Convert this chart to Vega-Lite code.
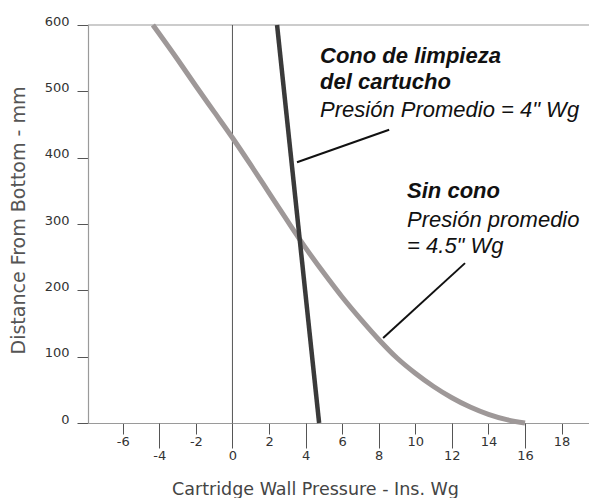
{
  "$schema": "https://vega.github.io/schema/vega-lite/v6.json",
  "width": 501,
  "height": 398,
  "autosize": {"type": "none"},
  "padding": {"left": 88, "top": 25, "right": 0, "bottom": 75},
  "background": "white",
  "config": {"view": {"stroke": null}, "axis": {"grid": false}},
  "datasets": {
    "sin_cono": [
      {"pressure": -4.35, "distance": 600},
      {"pressure": -3, "distance": 548},
      {"pressure": -2, "distance": 508},
      {"pressure": -1, "distance": 469},
      {"pressure": 0, "distance": 430},
      {"pressure": 1, "distance": 389},
      {"pressure": 2, "distance": 347},
      {"pressure": 3, "distance": 305},
      {"pressure": 4, "distance": 264},
      {"pressure": 5, "distance": 226},
      {"pressure": 6, "distance": 190},
      {"pressure": 7, "distance": 157},
      {"pressure": 8, "distance": 126},
      {"pressure": 9, "distance": 98},
      {"pressure": 10, "distance": 75},
      {"pressure": 11, "distance": 55},
      {"pressure": 12, "distance": 38},
      {"pressure": 13, "distance": 24},
      {"pressure": 14, "distance": 13},
      {"pressure": 15, "distance": 5},
      {"pressure": 16, "distance": 0}
    ],
    "cono": [
      {"pressure": 2.44, "distance": 600},
      {"pressure": 4.74, "distance": 0}
    ],
    "pointers": [
      {"x": 3.53, "y": 393, "x2": 8.57, "y2": 442},
      {"x": 8.24, "y": 128, "x2": 12.72, "y2": 241}
    ],
    "labels": [
      {"text": "Cono de limpieza", "x": 4.79, "y": 543, "kind": "bold"},
      {"text": "del cartucho", "x": 4.79, "y": 504, "kind": "bold"},
      {"text": "Presión Promedio = 4\" Wg", "x": 4.79, "y": 461, "kind": "normal"},
      {"text": "Sin cono", "x": 9.55, "y": 339, "kind": "bold"},
      {"text": "Presión promedio", "x": 9.55, "y": 296, "kind": "normal"},
      {"text": "= 4.5\" Wg", "x": 9.55, "y": 256, "kind": "normal"}
    ]
  },
  "resolve": {"axis": {"x": "independent"}},
  "layer": [
    {
      "data": {"values": [{}]},
      "mark": {"type": "rule", "color": "#9a9a9a", "strokeWidth": 1.2},
      "encoding": {
        "x": {"datum": -7.9, "type": "quantitative", "scale": {"domain": [-7.9, 19.5], "nice": false}, "axis": null},
        "x2": {"datum": 19.5},
        "y": {
          "datum": 600, "type": "quantitative",
          "scale": {"domain": [0, 600], "nice": false},
          "axis": {
            "values": [0, 100, 200, 300, 400, 500, 600],
            "tickSize": 11, "tickColor": "#555", "tickWidth": 1,
            "domainColor": "#9a9a9a", "domainWidth": 1.2,
            "labelFont": "DejaVu Sans", "labelFontSize": 13, "labelColor": "#333", "labelPadding": 8, "labelOffset": -4,
            "title": "Distance From Bottom - mm",
            "titleFont": "DejaVu Sans", "titleFontSize": 19, "titleFontWeight": "normal", "titleColor": "#555",
            "titleX": -70, "titleY": 195, "titleAngle": -90, "titleAlign": "center", "titleBaseline": "middle"
          }
        }
      }
    },
    {
      "data": {"values": [{}]},
      "mark": {"type": "rule", "color": "#555", "strokeWidth": 1},
      "encoding": {
        "x": {"datum": 0, "type": "quantitative", "axis": null},
        "y": {"datum": 0, "type": "quantitative"},
        "y2": {"datum": 600}
      }
    },
    {
      "data": {"name": "sin_cono"},
      "mark": {"type": "line", "color": "#9e9898", "strokeWidth": 5, "interpolate": "monotone", "strokeCap": "butt"},
      "encoding": {
        "x": {
          "field": "pressure", "type": "quantitative",
          "axis": {
            "orient": "bottom",
            "values": [-6, -2, 2, 6, 10, 14, 18],
            "labelExpr": "'' + datum.value",
            "tickSize": 11, "tickColor": "#555", "tickWidth": 1,
            "domainColor": "#9a9a9a", "domainWidth": 1.2,
            "labelFont": "DejaVu Sans", "labelFontSize": 13, "labelColor": "#333", "labelPadding": 1,
            "title": "Cartridge Wall Pressure - Ins. Wg",
            "titleFont": "DejaVu Sans", "titleFontSize": 17.5, "titleFontWeight": "normal", "titleColor": "#444",
            "titleX": 227, "titleY": 71, "titleAlign": "center", "titleBaseline": "alphabetic"
          }
        },
        "y": {"field": "distance", "type": "quantitative"}
      }
    },
    {
      "data": {"name": "cono"},
      "mark": {"type": "line", "color": "#3a3a3a", "strokeWidth": 4.5},
      "encoding": {
        "x": {
          "field": "pressure", "type": "quantitative",
          "axis": {
            "orient": "bottom",
            "values": [-4, 0, 4, 8, 12, 16],
            "labelExpr": "'' + datum.value",
            "tickSize": 25, "tickColor": "#555", "tickWidth": 1,
            "domain": false,
            "labelFont": "DejaVu Sans", "labelFontSize": 13, "labelColor": "#333", "labelPadding": 1,
            "title": null
          }
        },
        "y": {"field": "distance", "type": "quantitative"}
      }
    },
    {
      "data": {"name": "pointers"},
      "mark": {"type": "rule", "color": "#111", "strokeWidth": 2},
      "encoding": {
        "x": {"field": "x", "type": "quantitative", "axis": null},
        "y": {"field": "y", "type": "quantitative"},
        "x2": {"field": "x2"},
        "y2": {"field": "y2"}
      }
    },
    {
      "data": {"name": "labels"},
      "transform": [{"filter": "datum.kind == 'bold'"}],
      "mark": {"type": "text", "align": "left", "baseline": "alphabetic", "font": "Liberation Sans", "fontSize": 22, "fontStyle": "italic", "fontWeight": "bold", "color": "#111"},
      "encoding": {
        "x": {"field": "x", "type": "quantitative", "axis": null},
        "y": {"field": "y", "type": "quantitative"},
        "text": {"field": "text"}
      }
    },
    {
      "data": {"name": "labels"},
      "transform": [{"filter": "datum.kind == 'normal'"}],
      "mark": {"type": "text", "align": "left", "baseline": "alphabetic", "font": "Liberation Sans", "fontSize": 22, "fontStyle": "italic", "fontWeight": "normal", "color": "#111"},
      "encoding": {
        "x": {"field": "x", "type": "quantitative", "axis": null},
        "y": {"field": "y", "type": "quantitative"},
        "text": {"field": "text"}
      }
    }
  ]
}
